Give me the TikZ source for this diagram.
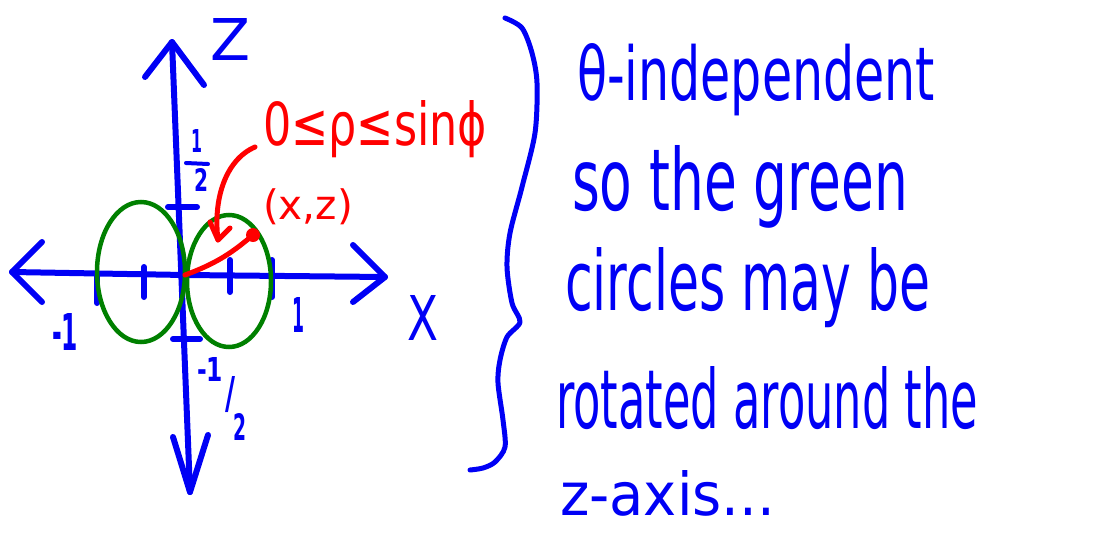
\documentclass[tikz,border=0pt]{standalone}
\usepackage{graphicx}
\usepackage{fontspec}
\setmainfont{DejaVu Sans}
\definecolor{inkblue}{RGB}{0,0,245}
\definecolor{inkred}{RGB}{255,0,0}
\definecolor{inkgreen}{RGB}{0,128,0}
\tikzset{
 blueink/.style={draw=inkblue, line width=6pt, line cap=round, line join=round},
 braceink/.style={draw=inkblue, line width=5pt, line cap=round, line join=round},
 fracbar/.style={draw=inkblue, line width=4pt, line cap=round},
 greenink/.style={draw=inkgreen, line width=4.5pt},
 redink/.style={draw=inkred, line width=5pt, line cap=round, line join=round},
 bluetxt/.style={text=inkblue, inner sep=0pt, outer sep=0pt},
 smalllab/.style={text=inkblue, inner sep=0pt, outer sep=0pt, font=\bfseries},
 redtxt/.style={text=inkred, inner sep=0pt, outer sep=0pt},
}
\begin{document}
\begin{tikzpicture}[x=1pt,y=-1pt]
\useasboundingbox (0,0) rectangle (1107,554);
% axes
\coordinate (ztop) at (172,42);
\coordinate (zbot) at (190,492);
\coordinate (xl) at (12,272);
\coordinate (xr) at (385,277);
\coordinate (O) at (185,275);
\draw[blueink] (zbot) -- (ztop);
\draw[blueink] (xl) -- (O) -- (xr);
\draw[blueink] (145,77) -- (ztop) -- (204,85);
\draw[blueink] (173,437) -- (zbot) -- (208,435);
\draw[blueink] (42,242) -- (xl) -- (42,302);
\draw[blueink] (353,245) -- (xr) -- (353,302);
% ticks
\draw[blueink] (144,267) -- (144,297);
\draw[blueink] (230,260) -- (230,292);
\draw[blueink] (97,273) -- (97,303);
\draw[blueink] (272,260) -- (272,297);
\draw[blueink] (168,207) -- (197,207);
\draw[blueink] (173,339) -- (200,339);
% axis labels
\node[bluetxt, anchor=base west] (zl) at (210,60) {\resizebox{40pt}{42pt}{Z}};
\node[bluetxt, anchor=base west] (xlab) at (407,340) {\resizebox{31pt}{45pt}{X}};
\node[smalllab, anchor=base west] (one) at (292,332) {\resizebox{12pt}{35pt}{1}};
\node[smalllab, anchor=base west] (mone) at (52,350) {\resizebox{26pt}{37pt}{-1}};
\node[smalllab, anchor=base west] (hnum) at (191,152) {\resizebox{11pt}{23pt}{1}};
\coordinate (hb1) at (186,163);
\coordinate (hb2) at (208,164);
\draw[fracbar] (hb1) -- (hb2);
\node[smalllab, anchor=base west] (hden) at (194,191) {\resizebox{14pt}{23pt}{2}};
\node[smalllab, anchor=base west] (mhalf) at (197,381) {\resizebox{26pt}{24pt}{-1}};
\node[smalllab] (slash) at (230,395) {\resizebox{10pt}{32pt}{/}};
\node[smalllab, anchor=base west] (two) at (233,440) {\resizebox{13pt}{27pt}{2}};
% green circles
\draw[greenink] (141,272) ellipse [x radius=44, y radius=70];
\draw[greenink] (229,281) ellipse [x radius=42, y radius=66];
% red
\node[circle, fill=inkred, minimum size=14pt, inner sep=0pt] (P) at (253,235) {};
\draw[redink] (O) to[bend right=10] (P.center);
\coordinate (a0) at (255,147);
\coordinate (a1) at (218,240);
\draw[redink] (a0) .. controls (225,160) and (213,200) .. (a1);
\draw[redink] (210,222) -- (a1) -- (230,228);
\node[redtxt, anchor=base west] (f) at (263,145) {\resizebox{224pt}{45pt}{0≤ρ≤sinϕ}};
\node[redtxt] (xz) at (308,207) {\resizebox{90pt}{!}{(x,z)}};
% brace
\draw[braceink] plot[smooth] coordinates {(505,18) (522,28) (532,53) (537,83) (535,133) (522,187) (510,233) (507,267) (512,303) (520,322) (507,337) (500,360) (498,383) (503,420) (505,447) (495,462) (483,468) (470,470)};
% text
\node[bluetxt, anchor=base west] (t1) at (577,100) {\resizebox{358pt}{57pt}{θ-independent}};
\node[bluetxt, anchor=base west] (t2) at (572,210) {\resizebox{336pt}{65pt}{so the green}};
\node[bluetxt, anchor=base west] (t3) at (565,310) {\resizebox{365pt}{63pt}{circles may be}};
\node[bluetxt, anchor=base west] (t4) at (556,428) {\resizebox{422pt}{62pt}{rotated around the}};
\node[bluetxt, anchor=base west] (t5) at (560,515) {\resizebox{215pt}{45pt}{z-axis...}};
\end{tikzpicture}
\end{document}
